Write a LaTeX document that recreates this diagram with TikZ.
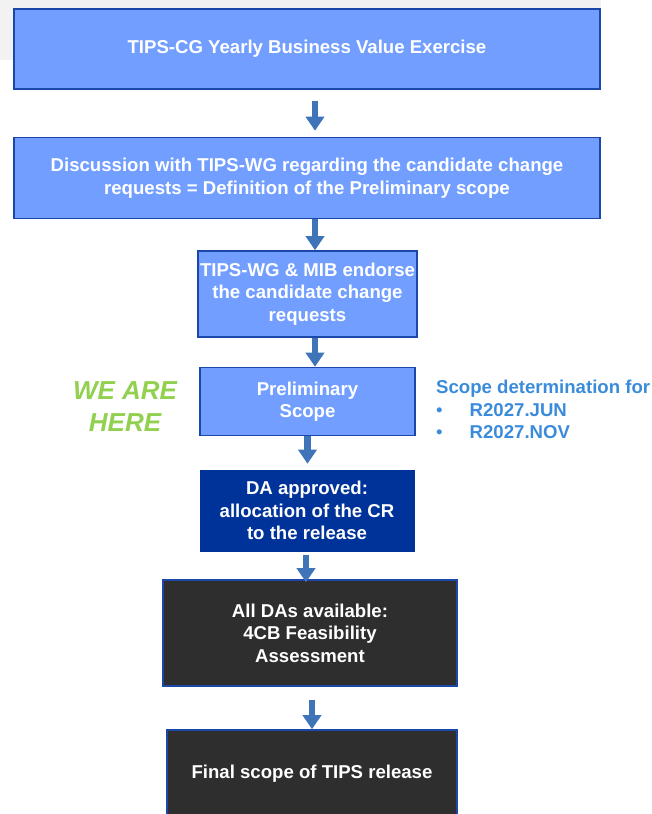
\documentclass[tikz,border=0pt]{standalone}
\usepackage{fontspec}
\setmainfont{Liberation Sans}
\usetikzlibrary{arrows.meta, positioning}

\definecolor{boxblue}{HTML}{729FFF}
\definecolor{edgeblue}{HTML}{1A47A8}
\definecolor{deepblue}{HTML}{003399}
\definecolor{darkbox}{HTML}{2E2E2E}
\definecolor{arrowblue}{HTML}{3F74B8}
\definecolor{heregreen}{HTML}{92D050}
\definecolor{notetext}{HTML}{3A8CDB}

\begin{document}
\begin{tikzpicture}[
  x=1pt, y=1pt,
  every node/.style={font=\bfseries\fontsize{18.6}{22.5}\selectfont, align=center, text=white, inner sep=2pt},
  lightbox/.style={draw=edgeblue, line width=1.5pt, fill=boxblue},
  darkbluebox/.style={draw=deepblue, line width=1pt, fill=deepblue},
  greybox/.style={draw=edgeblue, line width=1.5pt, fill=darkbox},
  flow/.style={arrowblue, line width=6.5pt, -{Triangle[width=18pt,length=14pt]}}
]
\useasboundingbox (0,0) rectangle (652,814);
% Background band
\fill[gray!10] (0,814) rectangle (601,754);

% Nodes
\node[lightbox, minimum width=586pt, minimum height=80pt] (bve) at (307,765) {TIPS-CG Yearly Business Value Exercise};
\node[lightbox, minimum width=586pt, minimum height=81pt, below=47pt of bve] (discuss) {Discussion with TIPS-WG regarding the candidate change\\requests = Definition of the Preliminary scope};
\node[lightbox, minimum width=217pt, minimum height=86pt, below=31pt of discuss, xshift=0.5pt] (endorse) {TIPS-WG \& MIB endorse\\the candidate change\\requests};
\node[lightbox, minimum width=215pt, minimum height=68pt, below=29pt of endorse] (prelim) {Preliminary\\Scope};
\node[darkbluebox, minimum width=214pt, minimum height=81pt, below=33.5pt of prelim, xshift=-0.5pt] (approved) {DA approved:\\allocation of the CR\\to the release};
\node[greybox, minimum width=294pt, minimum height=106pt, below=27.5pt of approved, xshift=3pt] (feasible) {All DAs available:\\4CB Feasibility\\Assessment};
\node[greybox, minimum width=290pt, minimum height=88pt, below=42.5pt of feasible, xshift=2pt] (final) {Final scope of TIPS release};

% Side notes
\node[text=heregreen, font=\bfseries\itshape\fontsize{26}{32}\selectfont, left=20pt of prelim, yshift=-5pt] (here) {WE ARE\\HERE};
\node[text=notetext, align=left, anchor=north west, inner sep=0pt] (note) at (436,434) {Scope determination for\\
  {\mdseries\textbullet}\hspace{27pt}R2027.JUN\\
  {\mdseries\textbullet}\hspace{27pt}R2027.NOV};

% Edges
\draw[flow, shorten <=11pt, shorten >=6pt] ([xshift=8pt]bve.south) -- ([xshift=8pt]discuss.north);
\draw[flow] ([xshift=8pt]discuss.south) -- ([xshift=7.5pt]endorse.north);
\draw[flow] ([xshift=7.5pt]endorse.south) -- ([xshift=7.5pt]prelim.north);
\draw[flow, shorten >=6pt] (prelim.south) -- ([xshift=0.5pt]approved.north);
\draw[flow, shorten <=3pt, shorten >=-3pt] ([xshift=-1pt]approved.south) -- ([xshift=-4pt]feasible.north);
\draw[flow, shorten <=13pt] ([xshift=2pt]feasible.south) -- (final.north);
\end{tikzpicture}
\end{document}
